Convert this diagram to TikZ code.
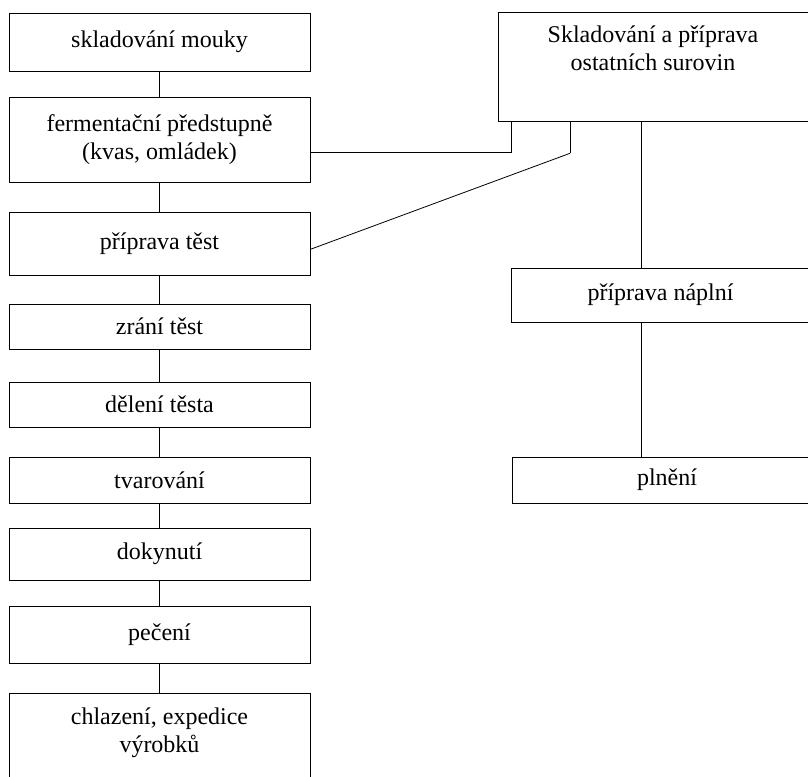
\documentclass[tikz,border=0pt]{standalone}
\usepackage{fontspec}
\setmainfont{Liberation Serif}
\begin{document}
\begin{tikzpicture}[x=1pt,y=-1pt,
  stepbox/.style={draw, line width=0.9pt, rectangle, inner sep=0pt, align=center,
    font=\fontsize{24}{28}\selectfont, minimum width=301pt},
  link/.style={line width=1pt},
  thin link/.style={line width=0.8pt}]
\useasboundingbox (0,0) rectangle (808,776);
\clip (0,0) rectangle (808,776);
% left column
\node[stepbox, minimum height=58pt] (b1) at (159.5,42) {skladování mouky};
\node[stepbox, minimum height=85pt] (b2) at (159.5,139.5) {fermentační předstupně\\(kvas, omládek)};
\node[stepbox, minimum height=63pt] (b3) at (159.5,243.5) {příprava těst};
\node[stepbox, minimum height=45pt] (b4) at (159.5,326.5) {zrání těst};
\node[stepbox, minimum height=45pt] (b5) at (159.5,404.5) {dělení těsta};
\node[stepbox, minimum height=46pt] (b6) at (159.5,480) {tvarování};
\node[stepbox, minimum height=52pt] (b7) at (159.5,554) {dokynutí};
\node[stepbox, minimum height=57pt] (b8) at (159.5,634.5) {pečení};
\node[stepbox, minimum height=110pt, anchor=north] (b9) at (159.5,693) {chlazení, expedice\\výrobků\\\strut};
% right column
\node[stepbox, minimum width=310pt, minimum height=109pt] (r1) at (653,66.5) {Skladování a příprava\\ostatních surovin\\\strut};
\node[stepbox, minimum width=299pt, minimum height=54pt] (r2) at (660.5,295) {příprava náplní};
\node[stepbox, minimum width=310pt, minimum height=46pt] (r3) at (667,480) {plnění};
% connectors
\foreach \a/\b in {b1/b2,b2/b3,b3/b4,b4/b5,b5/b6,b6/b7,b7/b8,b8/b9}
  \draw[link] (\a.south) -- (\b.north);
\coordinate (vx) at (641.7,0);
\draw[link] (r1.south -| vx) -- (r2.north -| vx);
\draw[link] (r2.south -| vx) -- (r3.north -| vx);
\coordinate (j1) at (511.7,152.3);
\draw[link] (b2.east |- j1) -- (j1) -- (j1 |- r1.south);
\coordinate (p3) at (0,249.3);
\coordinate (j2) at (570,153.3);
\draw[thin link] (b3.east |- p3) -- (j2);
\draw[link] (j2) -- (j2 |- r1.south);
\end{tikzpicture}
\end{document}
